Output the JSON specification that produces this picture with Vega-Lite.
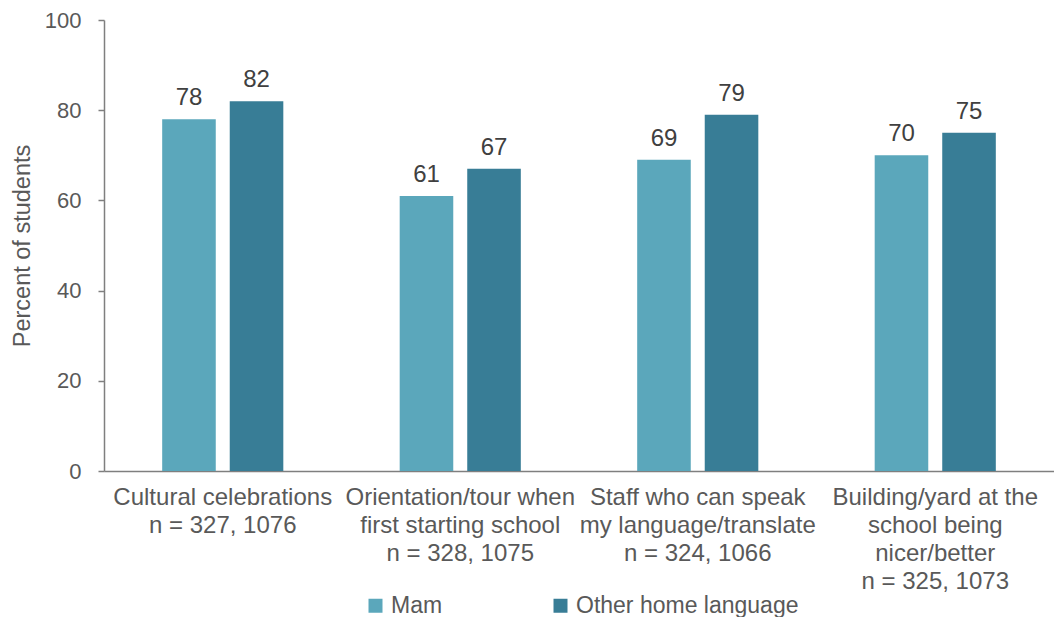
{
  "$schema": "https://vega.github.io/schema/vega-lite/v6.json",
  "width": 950,
  "height": 451,
  "autosize": "none",
  "padding": {"left": 104, "top": 20, "right": 0, "bottom": 146},
  "config": {
    "view": {"stroke": null},
    "font": "Liberation Sans",
    "axis": {"grid": false}
  },
  "data": {
    "values": [
      {"item": "Cultural celebrations|n = 327, 1076", "group": "Mam", "percent": 78},
      {"item": "Cultural celebrations|n = 327, 1076", "group": "Other home language", "percent": 82},
      {"item": "Orientation/tour when|first starting school|n = 328, 1075", "group": "Mam", "percent": 61},
      {"item": "Orientation/tour when|first starting school|n = 328, 1075", "group": "Other home language", "percent": 67},
      {"item": "Staff who can speak|my language/translate|n = 324, 1066", "group": "Mam", "percent": 69},
      {"item": "Staff who can speak|my language/translate|n = 324, 1066", "group": "Other home language", "percent": 79},
      {"item": "Building/yard at the|school being|nicer/better|n = 325, 1073", "group": "Mam", "percent": 70},
      {"item": "Building/yard at the|school being|nicer/better|n = 325, 1073", "group": "Other home language", "percent": 75}
    ]
  },
  "encoding": {
    "x": {
      "field": "item",
      "type": "nominal",
      "sort": null,
      "scale": {"paddingInner": 0.49, "paddingOuter": 0.245},
      "axis": {
        "title": null,
        "labelAngle": 0,
        "labelExpr": "split(datum.label, '|')",
        "labelFontSize": 24,
        "labelColor": "#595959",
        "labelLineHeight": 28,
        "labelPadding": 14,
        "labelLimit": 400,
        "ticks": false,
        "domainColor": "#7f7f7f",
        "domainWidth": 1.5
      }
    },
    "xOffset": {
      "field": "group",
      "type": "nominal",
      "scale": {"paddingInner": 0.207, "paddingOuter": 0}
    },
    "y": {
      "field": "percent",
      "type": "quantitative",
      "scale": {"domain": [0, 100]},
      "axis": {
        "title": "Percent of students",
        "titleFontSize": 23.5,
        "titleFontWeight": "normal",
        "titleColor": "#595959",
        "titlePadding": 10,
        "values": [0, 20, 40, 60, 80, 100],
        "labelFontSize": 22,
        "labelColor": "#595959",
        "labelPadding": 17,
        "tickSize": 6,
        "tickColor": "#7f7f7f",
        "tickWidth": 1.5,
        "domainColor": "#7f7f7f",
        "domainWidth": 1.5
      }
    }
  },
  "layer": [
    {
      "mark": {"type": "bar"},
      "encoding": {
        "color": {
          "field": "group",
          "type": "nominal",
          "scale": {"domain": ["Mam", "Other home language"], "range": ["#5BA7BB", "#387D96"]},
          "legend": {
            "title": null,
            "orient": "none",
            "direction": "horizontal",
            "legendX": 260,
            "legendY": 574,
            "symbolType": "square",
            "symbolSize": 196,
            "symbolStrokeWidth": 0,
            "labelFontSize": 23,
            "labelColor": "#595959",
            "labelOffset": 4,
            "columnPadding": 106,
            "labelLimit": 400
          }
        }
      }
    },
    {
      "mark": {"type": "text", "baseline": "alphabetic", "dy": -14, "fontSize": 24, "color": "#404040"},
      "encoding": {
        "text": {"field": "percent", "type": "quantitative"}
      }
    }
  ]
}
